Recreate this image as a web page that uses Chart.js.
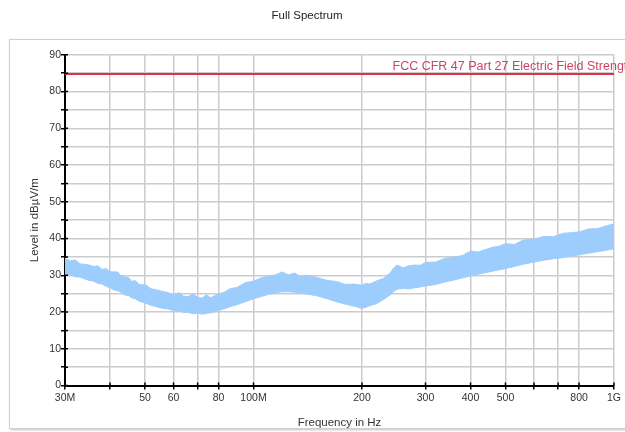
<!DOCTYPE html>
<html><head><meta charset="utf-8">
<script src="https://cdn.jsdelivr.net/npm/chart.js@4.4.1/dist/chart.umd.min.js"></script>
<style>
html,body{margin:0;padding:0;background:#fff;}
#wrap{position:relative;width:625px;height:432px;overflow:hidden;}
#frame{position:absolute;left:9px;top:39px;width:700px;height:388px;border:1px solid #d0d0d0;box-shadow:1px 1px 2px #c0c0c0;}
canvas{position:absolute;left:0;top:0;}
</style></head><body>
<div id="wrap"><div id="frame"></div><canvas id="c" width="625" height="432"></canvas></div>
<script>
const chartTitle = 'Full Spectrum';
const xAxisTitle = 'Frequency in Hz';
const yAxisTitle = 'Level in dBµV/m';
const limitLabel = 'FCC CFR 47 Part 27 Electric Field Strength';

const freqMHz = [30,31,32,33,34,35,36,37,38,39,40,41,42,43,44,45,46,47,48,49,50,52,54,56,58,60,62,64,66,68,70,72,74,76,78,80,83,86,90,95,100,105,110,115,120,125,130,135,140,150,160,170,180,190,200,205,210,220,230,240,245,250,260,270,280,290,300,320,340,360,380,400,420,440,460,480,500,530,560,600,640,680,720,760,800,850,900,950,1000];
const levelUpper = [34.6,33.9,34.2,33.1,33.0,32.8,32.4,32.6,31.6,31.8,31.0,30.9,30.9,29.7,29.5,29.4,28.3,28.6,27.6,27.4,27.5,26.3,26.0,25.6,25.3,24.6,25.3,24.3,24.2,24.9,24.0,23.8,24.7,23.9,24.4,24.9,25.4,26.3,26.7,28.0,28.4,29.3,29.7,30.1,30.9,30.1,30.6,29.7,30.0,29.4,28.6,28.3,27.5,27.6,27.3,27.8,27.6,28.5,29.2,30.8,32.0,32.8,32.0,32.6,32.8,32.7,33.5,33.6,34.6,34.9,35.4,36.6,36.3,37.0,37.6,37.9,38.6,38.4,39.6,39.8,40.6,40.5,41.4,41.6,41.8,42.6,42.7,43.4,44.0];
const levelLower = [30.0,30.3,29.6,29.5,29.0,28.6,28.4,27.8,27.6,27.0,26.6,26.0,25.8,25.3,24.6,24.5,23.8,23.6,23.0,22.7,22.5,21.8,21.4,21.0,20.8,20.4,20.3,19.9,19.9,19.5,19.7,19.4,19.6,19.8,20.0,20.4,20.9,21.4,22.0,22.8,23.6,24.2,24.8,25.2,25.5,25.5,25.4,25.2,24.9,24.4,23.6,22.8,22.1,21.6,21.0,21.3,21.7,22.3,23.5,24.7,25.6,26.2,26.4,26.3,26.6,26.8,27.1,27.5,28.2,28.7,29.3,29.8,30.3,30.7,31.1,31.5,31.8,32.4,33.0,33.6,34.1,34.5,34.8,35.2,35.6,36.0,36.4,36.8,37.2];

const limitFreq = [30, 1000];
const limitLevel = [84.8, 84.8];
const limitLabelFreq = 243;

const xTickValues = [30,40,50,60,70,80,100,200,300,400,500,600,700,800,1000];
const xTickLabels = ['30M','','50','60','','80','100M','200','300','400','500','','','800','1G'];
const yMin = 0, yMax = 90, yStep = 5, yLabelStep = 10;

const FONT = "'Liberation Sans', Arial, sans-serif";
const bandColor = '#9dcdfc';

const toXY = (xs, ys) => xs.map((x, i) => ({x: x, y: ys[i]}));

const tickCross = {
  id: 'tickCross',
  afterDraw(chart) {
    const {ctx, scales: {x, y}, chartArea: a} = chart;
    ctx.save();
    ctx.strokeStyle = '#000';
    ctx.lineWidth = 1.5;
    ctx.beginPath();
    xTickValues.forEach(v => { const px = x.getPixelForValue(v); ctx.moveTo(px, a.bottom); ctx.lineTo(px, a.bottom - 3); });
    for (let v = yMin; v <= yMax; v += yStep) { const py = y.getPixelForValue(v); ctx.moveTo(a.left, py); ctx.lineTo(a.left + 3, py); }
    ctx.stroke();
    ctx.restore();
  }
};

const limitText = {
  id: 'limitText',
  afterDatasetsDraw(chart) {
    const {ctx, scales: {x, y}} = chart;
    ctx.save();
    ctx.fillStyle = '#cc4466';
    ctx.font = '12.5px ' + FONT;
    ctx.textAlign = 'left';
    ctx.textBaseline = 'bottom';
    ctx.fillText(limitLabel, x.getPixelForValue(limitLabelFreq), y.getPixelForValue(limitLevel[0]) - 1);
    ctx.restore();
  }
};

new Chart(document.getElementById('c'), {
  type: 'line',
  data: {
    datasets: [
      {data: toXY(freqMHz, levelUpper), borderColor: bandColor, backgroundColor: bandColor, borderWidth: 1, pointRadius: 0, fill: '+1', tension: 0},
      {data: toXY(freqMHz, levelLower), borderColor: bandColor, backgroundColor: bandColor, borderWidth: 1, pointRadius: 0, fill: false, tension: 0},
      {data: toXY(limitFreq, limitLevel), borderColor: '#e0304a', borderWidth: 2, pointRadius: 0, fill: false}
    ]
  },
  options: {
    responsive: false,
    animation: false,
    devicePixelRatio: 1,
    layout: {padding: {left: 0, right: 11, top: 0, bottom: 0}},
    plugins: {
      legend: {display: false},
      tooltip: {enabled: false},
      title: {display: true, text: chartTitle, color: '#222', font: {family: FONT, size: 11.5, weight: 'normal'}, padding: {top: 9, bottom: 32}}
    },
    scales: {
      x: {
        type: 'logarithmic', min: 30, max: 1000,
        afterBuildTicks: s => { s.ticks = xTickValues.map(v => ({value: v})); },
        afterFit: s => { s.height = 46.5; },
        ticks: {autoSkip: false, maxRotation: 0, padding: 2, color: '#333', font: {family: FONT, size: 10.5},
          callback: function(v) { const i = xTickValues.indexOf(v); return i >= 0 ? xTickLabels[i] : ''; }},
        grid: {color: '#cccccc', lineWidth: 1.5, tickColor: '#000', tickLength: 4, tickWidth: 1.5},
        border: {color: '#000', width: 2},
        title: {display: true, text: xAxisTitle, color: '#333', font: {family: FONT, size: 11.5}, padding: {top: 0, bottom: 2.4}}
      },
      y: {
        min: yMin, max: yMax,
        afterFit: s => { s.width = 65; },
        ticks: {stepSize: yStep, padding: 0, color: '#333', font: {family: FONT, size: 10.5},
          callback: v => (v % yLabelStep === 0 ? String(v) : '')},
        grid: {color: '#cccccc', lineWidth: 1.5, tickColor: '#000', tickLength: 4, tickWidth: 1.5},
        border: {color: '#000', width: 2},
        title: {display: true, text: yAxisTitle, color: '#333', font: {family: FONT, size: 11.5}, padding: {top: 28, bottom: 0}}
      }
    }
  },
  plugins: [limitText, tickCross]
});
</script>
</body></html>
